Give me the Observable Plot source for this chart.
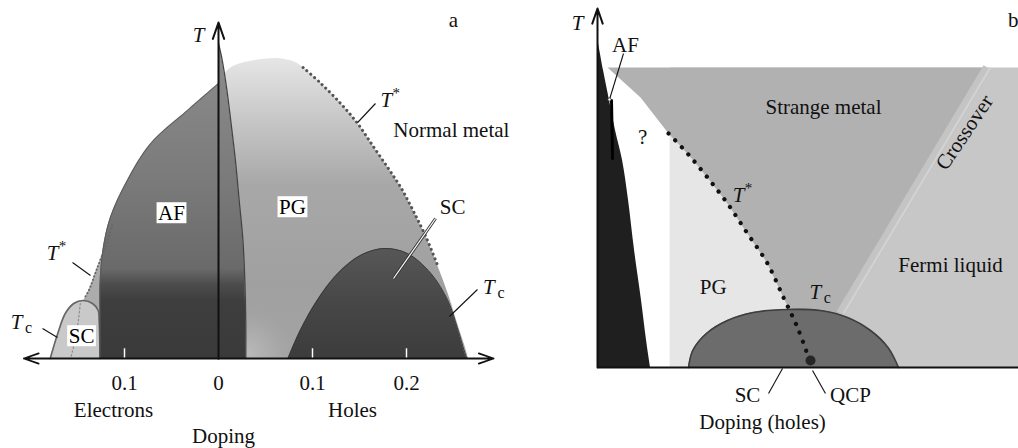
<!DOCTYPE html>
<html>
<head>
<meta charset="utf-8">
<script src="https://cdn.jsdelivr.net/npm/d3@7"></script>
<script src="https://cdn.jsdelivr.net/npm/@observablehq/plot@0.6"></script>
<style>
  html, body { margin: 0; padding: 0; background: #fff; }
  #chart { position: relative; width: 1018px; height: 448px; overflow: hidden; }
  #chart svg { position: absolute; left: 0; top: 0; }
  #chart svg text { font-family: "Liberation Serif", "Times New Roman", serif !important; }
</style>
</head>
<body>
<div id="chart"></div>
<script>
// ===== Panel a: generic phase diagram, electron doping (left) and hole doping (right) =====
// points are [doping, T]; electron doping is plotted as negative values
const afElectronEdge = [[-0.126,0],[-0.126,40],[-0.126,75],[-0.123,108],[-0.115,141],[-0.097,178],[-0.072,215],[-0.033,248],[0,275]];
const afLensEdge = [[0,315],[0.004,298],[0.009,268],[0.013,238],[0.018,198],[0.022,158],[0.026,118],[0.028,78],[0.029,38],[0.029,0]];
const pgHoleTop = [[0.004,0],[0.004,280],[0.010,288],[0.018,293],[0.039,298],[0.063,300],[0.082,296],[0.090,291],[0.109,275],[0.130,255],[0.148,235],[0.164,213],[0.180,191],[0.194,171],[0.207,148],[0.221,121],[0.234,91],[0.245,63],[0.255,33],[0.262,13],[0.266,0]];
const tStarHole = [[0.090,291],[0.109,275],[0.130,255],[0.148,235],[0.164,213],[0.180,191],[0.194,171],[0.207,148],[0.221,121],[0.234,91]];
const scHoleTop = [[0.074,0],[0.087,28],[0.105,58],[0.127,85],[0.151,103],[0.176,110],[0.201,105],[0.226,85],[0.244,58],[0.254,31],[0.264,1],[0.265,0]];
const tStarElectronTop = [[-0.179,0],[-0.173,8],[-0.162,28],[-0.149,48],[-0.138,68],[-0.130,88],[-0.120,113],[-0.113,133],[-0.100,150]];
const tStarElectron = [[-0.113,133],[-0.120,113],[-0.130,88],[-0.138,68],[-0.143,60]];
const scElectronTop = [[-0.179,0],[-0.171,25],[-0.163,45],[-0.154,55],[-0.144,58],[-0.134,55],[-0.128,48],[-0.127,38],[-0.126,0]];
const scElectronInner = [[-0.147,55],[-0.149,38],[-0.152,20],[-0.157,1]];
const dopingTicks = [-0.1, 0.1, 0.2];
const dopingTickLabels = [-0.1, 0, 0.1, 0.2];

// ===== Panel b: hole-doped cuprates with a quantum critical point =====
const afBEdge = [[0,330],[0.0057,297],[0.0114,267],[0.0171,237],[0.0238,207],[0.0295,167],[0.0352,117],[0.0418,67],[0.0466,27],[0.0504,0]];
const fermiB = [[0.069,0],[0.069,300],[0.4,300],[0.4,0]];
const tStarB = [[0.0675,234],[0.0855,214],[0.1045,190],[0.1235,164],[0.1425,134],[0.1615,104],[0.1767,70],[0.1900,40],[0.2005,10],[0.2030,0]];
const strangeB = [[0.0095,300],[0.3705,300],[0.2309,54],[0.185,54],[0.1767,70],[0.1615,104],[0.1425,134],[0.1235,164],[0.1045,190],[0.0855,214],[0.0675,234],[0.0409,270]];
const crossoverB = [[0.2309,54],[0.3705,300]];
const scBTop = [[0.0865,0],[0.0905,17],[0.1035,34],[0.1235,47],[0.148,55],[0.1805,58],[0.2119,57],[0.2375,50],[0.2594,37],[0.2760,20],[0.2860,0]];
const qcpB = [[0.2024, 7]];

// scale settings shared by the marks and the gradient definitions
const xA = {domain: [-0.2, 0.3], range: [30, 500]};
const yA = {domain: [0, 350], range: [358, 8]};
const xB = {domain: [0, 0.4], range: [597, 1018]};
const yB = {domain: [0, 350], range: [367, 17]};
const yPxA = d3.scaleLinear(yA.domain, yA.range);
const xPxA = d3.scaleLinear(xA.domain, xA.range);

const serif = "Liberation Serif";
const boxedInk = "#000";   // region names drawn on white boxes use this ink
const px = d => d[0], pt = d => d[1];
const poly = (pts, o) => Plot.line(pts, {x: px, y: pt, ...o});
const under = (pts, o) => Plot.areaY(pts, {x: px, y1: () => 0, y2: pt, curve: "catmull-rom", ...o});
const label = (items, o = {}) => Plot.text(items, {x: "x", y: "T", text: "text", fontFamily: serif, fontSize: 21, fill: "#111", ...o});
const leader = (items, o = {}) => Plot.link(items, {x1: d => d[0], y1: d => d[1], x2: d => d[2], y2: d => d[3], stroke: "#111", strokeWidth: 1.1, ...o});

function gradientsA() {
  const defs = d3.create("svg:defs");
  const stops = (g, list) => list.forEach(([o, c, a = 1]) => g.append("stop").attr("offset", o).attr("stop-color", c).attr("stop-opacity", a));
  const lin = (id, t1, t2) => defs.append("linearGradient").attr("id", id).attr("gradientUnits", "userSpaceOnUse")
    .attr("x1", 0).attr("x2", 0).attr("y1", yPxA(t1)).attr("y2", yPxA(t2));
  stops(lin("afGrad", 320, 0), [[0, "#8e8e8e"], [0.45, "#7a7a7a"], [0.72, "#6a6a6a"], [0.77, "#4c4c4c"], [0.82, "#3e3e3e"], [1, "#3a3a3a"]]);
  stops(lin("pgGrad", 300, 0), [[0, "#e6e6e6"], [0.2, "#c8c8c8"], [0.42, "#a8a8a8"], [0.75, "#a0a0a0"], [1, "#a4a4a4"]]);
  stops(lin("scGrad", 110, 0), [[0, "#575757"], [0.5, "#474747"], [1, "#3c3c3c"]]);
  const r = defs.append("radialGradient").attr("id", "pgLow").attr("gradientUnits", "userSpaceOnUse")
    .attr("cx", xPxA(0.032)).attr("cy", yPxA(5)).attr("r", 45);
  stops(r, [[0, "#bcbcbc", 0.9], [0.5, "#b4b4b4", 0.5], [1, "#a8a8a8", 0]]);
  return defs.node();
}

const plotA = Plot.plot({
  width: 1018, height: 448, margin: 0,
  x: {...xA, axis: null}, y: {...yA, axis: null},
  style: {background: "transparent", overflow: "visible", fontFamily: serif},
  marks: [
    gradientsA,
    under(pgHoleTop, {fill: "url(#pgGrad)"}),
    under(pgHoleTop, {fill: "url(#pgLow)"}),
    under(tStarElectronTop, {fill: "#acacac"}),
    under(scElectronTop, {fill: "#c9c9c9"}),
    poly(scElectronTop, {stroke: "#666", strokeWidth: 1.6, curve: "catmull-rom"}),
    poly(scElectronInner, {stroke: "#8c8c8c", strokeWidth: 1.2, strokeDasharray: "1.5 2.5"}),
    Plot.areaX(afElectronEdge, {y: pt, x1: px, x2: () => 0, fill: "url(#afGrad)", curve: "catmull-rom"}),
    poly(afElectronEdge, {stroke: "#5a5a5a", strokeWidth: 1, curve: "catmull-rom"}),
    Plot.areaX(afLensEdge, {y: pt, x1: () => 0, x2: px, fill: "url(#afGrad)", curve: "catmull-rom"}),
    poly(afLensEdge, {stroke: "#444", strokeWidth: 1.3, curve: "catmull-rom"}),
    under(scHoleTop, {fill: "url(#scGrad)"}),
    poly(scHoleTop, {stroke: "#3a3a3a", strokeWidth: 1, curve: "catmull-rom"}),
    poly(tStarHole, {stroke: "#555", strokeWidth: 3, strokeDasharray: "0.1 5", strokeLinecap: "round", curve: "catmull-rom"}),
    poly(tStarElectron, {stroke: "#666", strokeWidth: 2, strokeDasharray: "0.1 3.5", strokeLinecap: "round", curve: "catmull-rom"}),
    // doping ticks: white marks with a dark rim
    Plot.link(dopingTicks, {x1: d => d, x2: d => d, y1: () => 0, y2: () => 11, stroke: "#444", strokeWidth: 3.4}),
    Plot.link(dopingTicks, {x1: d => d, x2: d => d, y1: () => 0.5, y2: () => 10.2, stroke: "#fff", strokeWidth: 1.4}),
    // axes
    Plot.arrow([-0.207, 0.2926], {x1: () => 0, x2: d => d, y1: () => 0, y2: () => 0, stroke: "#111", strokeWidth: 1.8, headLength: 13, headAngle: 38}),
    Plot.arrow([336], {x1: () => 0, x2: () => 0, y1: () => 0, y2: d => d, stroke: "#111", strokeWidth: 2, headLength: 13, headAngle: 38}),
    // leader lines
    leader([[0.167, 255, 0.148, 236], [-0.1553, 96, -0.1362, 83], [-0.1872, 30, -0.1713, 21], [0.2755, 69, 0.2457, 42]]),
    leader([[0.2309, 140, 0.1862, 80]], {stroke: "#333", strokeWidth: 3}),
    leader([[0.2309, 140, 0.1862, 80]], {stroke: "#fff", strokeWidth: 1.2}),
    // labels
    label(dopingTickLabels.map(d => ({x: d, T: -25, text: String(Math.abs(d))}))),
    label([{x: -0.1117, T: -52, text: "Electrons"}, {x: 0.1426, T: -52, text: "Holes"}, {x: 0.0053, T: -78, text: "Doping"},
           {x: 0.249, T: 151, text: "SC"}, {x: 0.25, T: 338, text: "a"}]),
    label([{x: 0.186, T: 228, text: "Normal metal"}], {textAnchor: "start"}),
    label([{x: -0.05, T: 145, text: "AF"}, {x: 0.0787, T: 151, text: "PG"}, {x: -0.1457, T: 22, text: "SC"}], {fill: boxedInk}),
    label([{x: -0.0213, T: 323, text: "T"}, {x: 0.1785, T: 258, text: "T"}, {x: -0.1766, T: 105, text: "T"},
           {x: -0.2149, T: 36, text: "T"}, {x: 0.2877, T: 71, text: "T"}], {fontStyle: "italic"}),
    label([{x: 0.1785, T: 258, text: "*"}, {x: -0.1766, T: 105, text: "*"}], {fontSize: 15, dx: 10, dy: -7}),
    label([{x: -0.2149, T: 36, text: "c"}, {x: 0.2877, T: 71, text: "c"}], {fontSize: 16, dx: 12, dy: 5})
  ]
});

const plotB = Plot.plot({
  width: 1018, height: 448, margin: 0,
  x: {...xB, axis: null}, y: {...yB, axis: null},
  style: {background: "transparent", overflow: "visible", fontFamily: serif},
  marks: [
    poly(fermiB, {fill: "#c7c7c7", stroke: "none"}),
    Plot.areaX(tStarB, {y: pt, x1: () => 0.069, x2: px, fill: "#e6e6e6", curve: "catmull-rom"}),
    poly(strangeB, {fill: "#b1b1b1", stroke: "none"}),
    poly(crossoverB, {stroke: "#c4c4c4", strokeWidth: 9, strokeLinecap: "butt"}),
    poly(crossoverB, {stroke: "#d2d2d2", strokeWidth: 2.2, strokeLinecap: "butt", dx: 3}),
    Plot.areaX(afBEdge, {y: pt, x1: () => 0, x2: px, fill: "#1f1f1f", curve: "catmull-rom"}),
    poly([[0.0133, 267], [0.0143, 209]], {stroke: "#000", strokeWidth: 3}),
    under(scBTop, {fill: "#6c6c6c"}),
    poly(scBTop, {stroke: "#3e3e3e", strokeWidth: 1.6, curve: "catmull-rom"}),
    Plot.dot(qcpB, {x: px, y: pt, r: 5, fill: "#262626", stroke: "none"}),
    poly(tStarB.slice(0, -1), {stroke: "#111", strokeWidth: 4.2, strokeDasharray: "0.1 9.5", strokeLinecap: "round", curve: "catmull-rom"}),
    // axes
    Plot.link([0], {x1: () => 0, x2: () => 0.41, y1: () => 0, y2: () => 0, stroke: "#111", strokeWidth: 2.2}),
    Plot.arrow([359], {x1: () => 0, x2: () => 0, y1: () => 0, y2: d => d, stroke: "#111", strokeWidth: 2, headLength: 12, headAngle: 38}),
    // leader lines
    leader([[0.0247, 314, 0.0114, 268], [0.1625, -26, 0.1758, -1], [0.2166, -26, 0.2043, -3]]),
    Plot.dot([[0.0114, 268]], {x: px, y: pt, r: 1.6, fill: "#fff", stroke: "#333", strokeWidth: 0.8}),
    // labels
    label([{x: 0.0266, T: 322, text: "AF"}, {x: 0.0428, T: 230, text: "?"}, {x: 0.2147, T: 260, text: "Strange metal"},
           {x: 0.3354, T: 102, text: "Fermi liquid"}, {x: 0.110, T: 80, text: "PG"}, {x: 0.1425, T: -28, text: "SC"},
           {x: 0.2404, T: -28, text: "QCP"}, {x: 0.1568, T: -55, text: "Doping (holes)"}, {x: 0.395, T: 347, text: "b"}]),
    label([{x: 0.3487, T: 235, text: "Crossover"}], {rotate: -56}),
    label([{x: -0.019, T: 344, text: "T"}, {x: 0.134, T: 172, text: "T"}, {x: 0.207, T: 75, text: "T"}], {fontStyle: "italic"}),
    label([{x: 0.134, T: 172, text: "*"}], {fontSize: 15, dx: 10, dy: -7}),
    label([{x: 0.207, T: 75, text: "c"}], {fontSize: 16, dx: 12, dy: 5})
  ]
});

const chart = document.getElementById("chart");
chart.append(plotA, plotB);

// white boxes behind the region names in panel a
for (const g of plotA.querySelectorAll("g")) {
  if ((g.getAttribute("fill") || "").toLowerCase() !== boxedInk) continue;
  for (const t of g.querySelectorAll("text")) {
    const bb = t.getBBox();
    const rect = document.createElementNS("http://www.w3.org/2000/svg", "rect");
    rect.setAttribute("x", bb.x - 1.5);
    rect.setAttribute("y", bb.y + 1);
    rect.setAttribute("width", bb.width + 3);
    rect.setAttribute("height", bb.height - 3);
    rect.setAttribute("fill", "#fff");
    if (t.getAttribute("transform")) rect.setAttribute("transform", t.getAttribute("transform"));
    t.parentNode.insertBefore(rect, t);
  }
}
</script>
</body>
</html>
